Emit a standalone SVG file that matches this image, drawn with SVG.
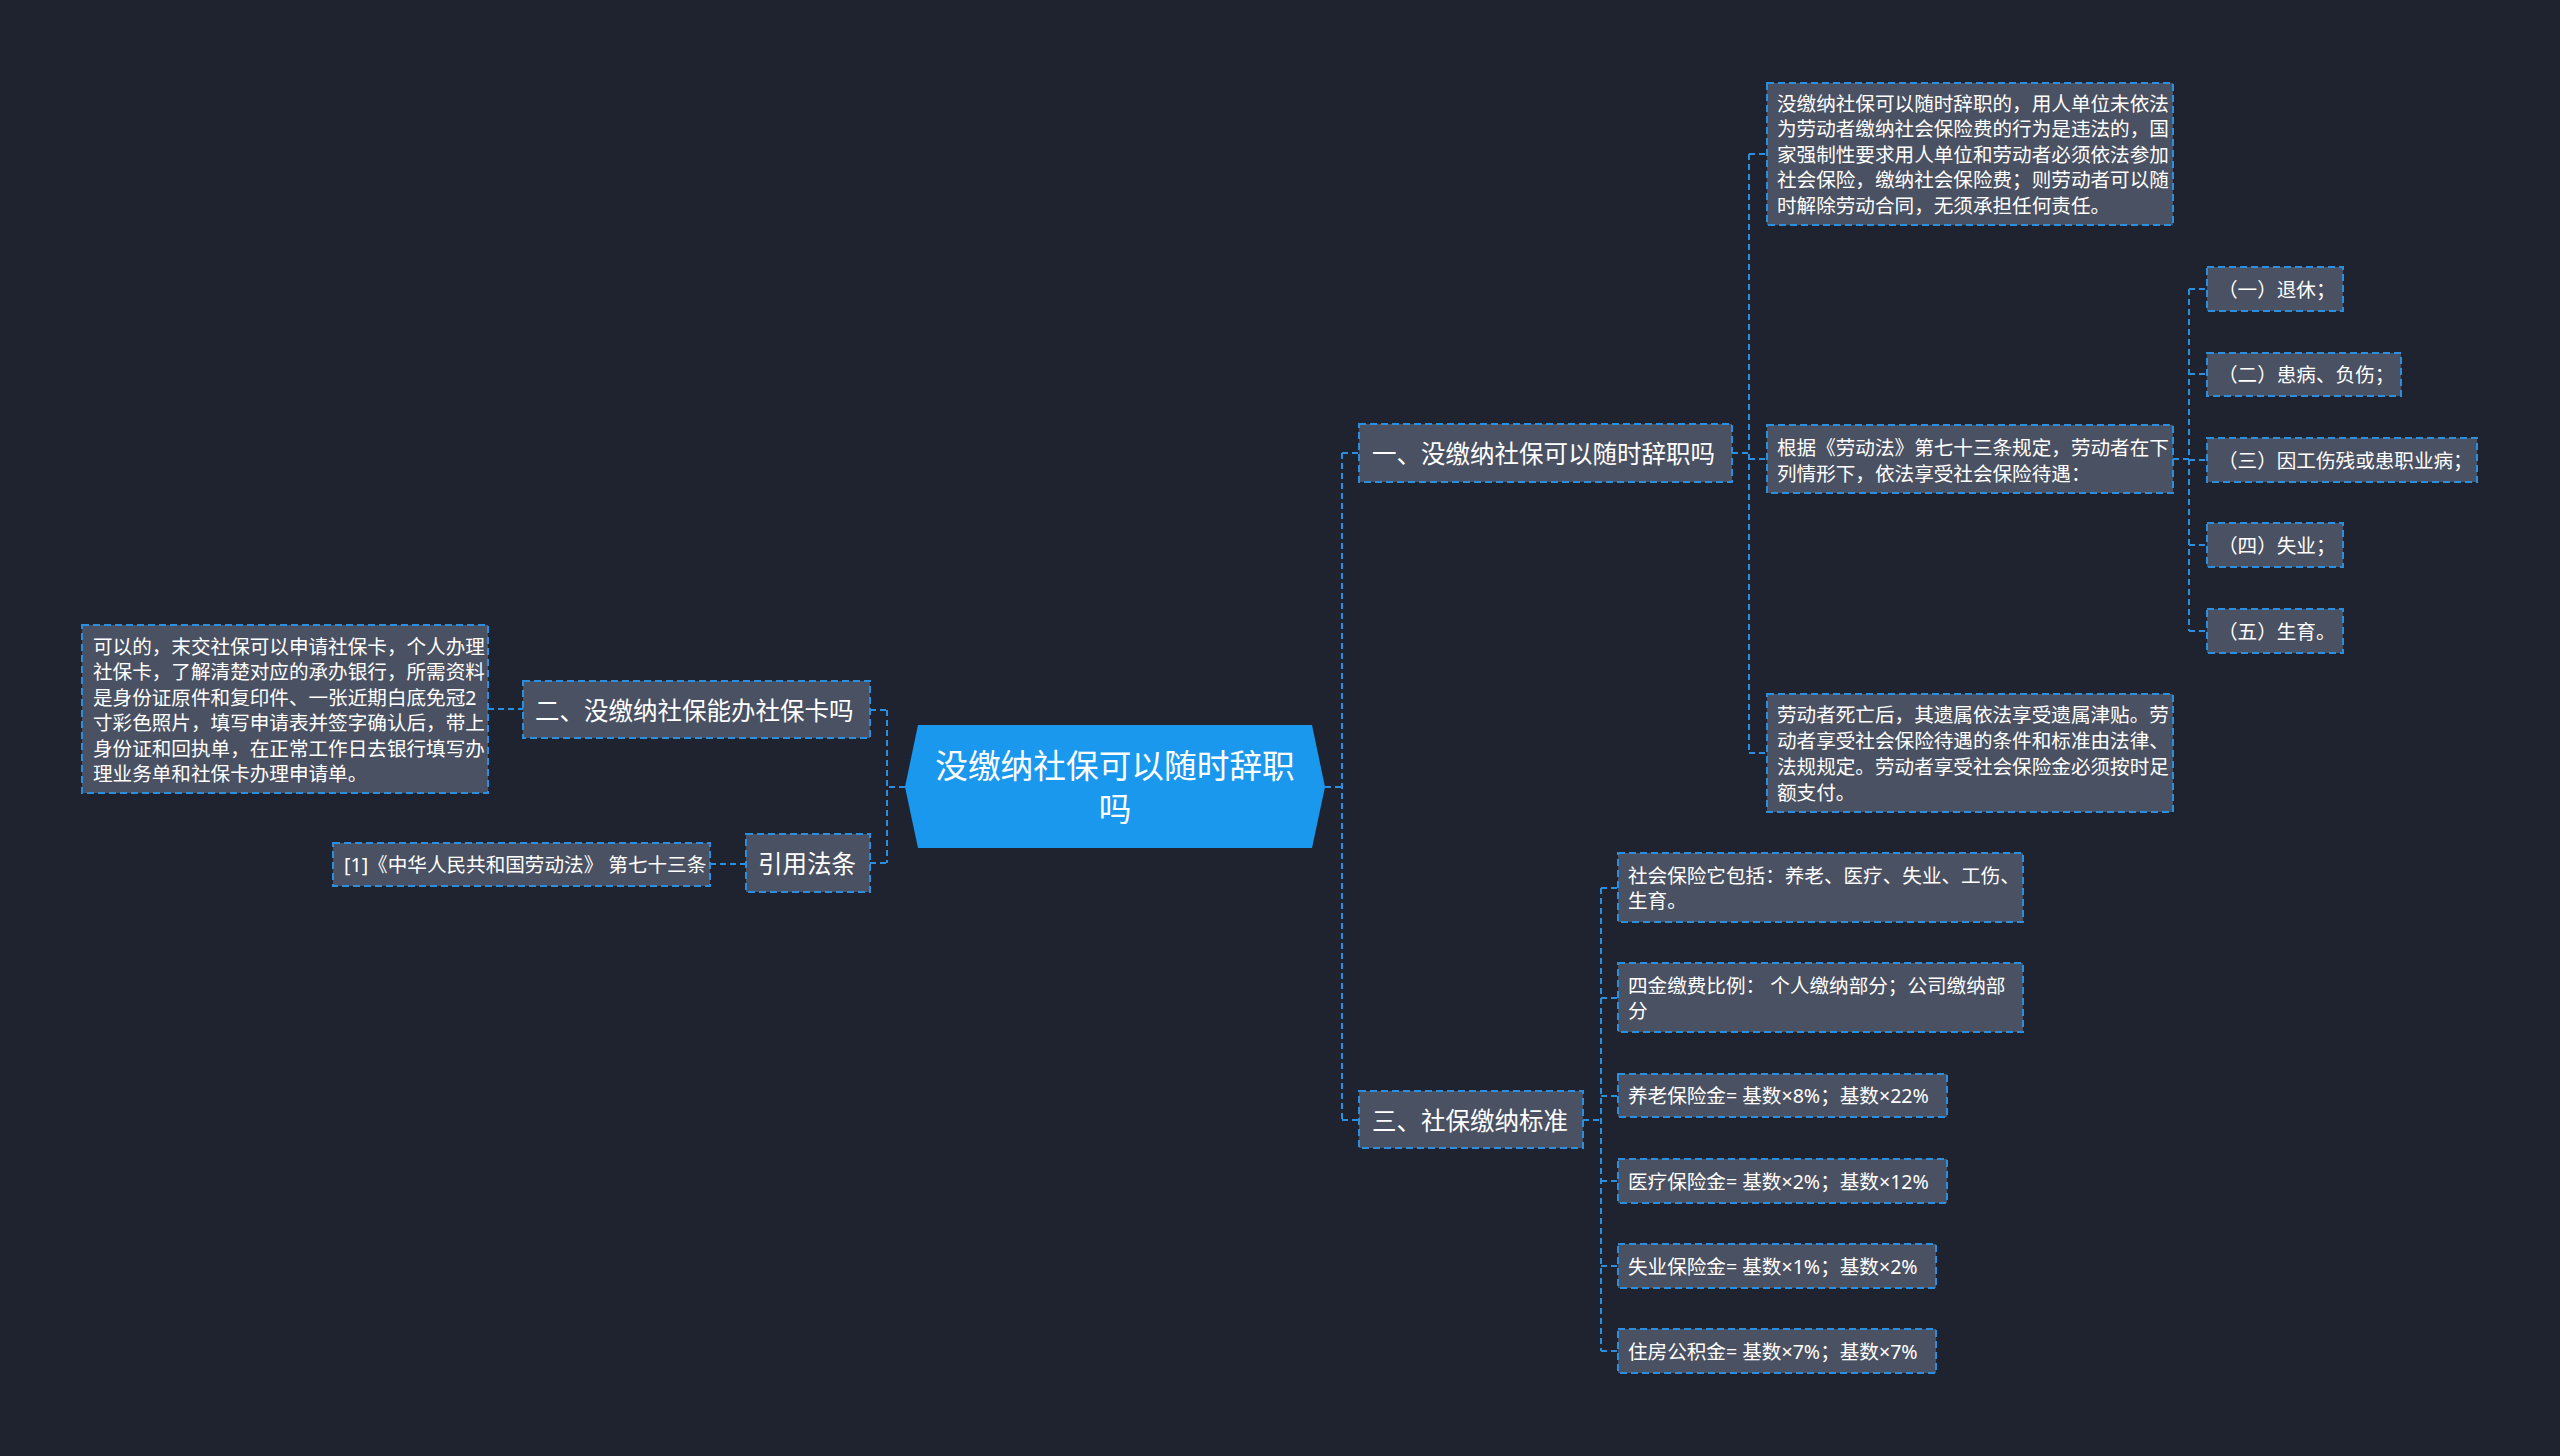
<svg xmlns="http://www.w3.org/2000/svg" width="2560" height="1456" viewBox="0 0 2560 1456">
<style>
text{font-family:"Noto Sans","Noto Sans CJK SC","Microsoft YaHei",sans-serif;fill:#ffffff;dominant-baseline:central}
.box{fill:#4a5162;stroke:#2b8fe0;stroke-width:2;stroke-dasharray:7 4}
.t1{font-size:24.5px}
.t2{font-size:19.6px}
.tc{font-size:32.7px;text-anchor:middle}
.ln{fill:none;stroke:#2b8fe0;stroke-width:2;stroke-dasharray:6 4}
</style>
<rect width="2560" height="1456" fill="#1f232f"/>
<g id="connectors">
<path class="ln" d="M905 787 H887"/>
<path class="ln" d="M887 710 V863"/>
<path class="ln" d="M870 710 H887 M870 863 H887"/>
<path class="ln" d="M488 709 H523"/>
<path class="ln" d="M710 864 H746"/>
<path class="ln" d="M1325 787 H1342"/>
<path class="ln" d="M1342 453 V1120"/>
<path class="ln" d="M1342 453 H1359 M1342 1120 H1359"/>
<path class="ln" d="M1732 453 H1749"/>
<path class="ln" d="M1749 154 V753"/>
<path class="ln" d="M1749 154 H1767 M1749 459 H1767 M1749 753 H1767"/>
<path class="ln" d="M2173 459 H2189"/>
<path class="ln" d="M2189 289 V631"/>
<path class="ln" d="M2189 289 H2207 M2189 374 H2207 M2189 460 H2207 M2189 545 H2207 M2189 631 H2207"/>
<path class="ln" d="M1583 1120 H1601"/>
<path class="ln" d="M1601 888 V1351"/>
<path class="ln" d="M1601 888 H1618 M1601 998 H1618 M1601 1096 H1618 M1601 1181 H1618 M1601 1266 H1618 M1601 1351 H1618"/>
</g>
<g id="center">
<polygon points="905,787 918,725 1312,725 1325,787 1312,848 918,848" fill="#1a98ee"/>
<text class="tc" x="1115" y="765">没缴纳社保可以随时辞职</text>
<text class="tc" x="1115" y="808">吗</text>
</g>
<g id="n-left1">
<rect class="box" x="523" y="681" width="347" height="57"/>
<text class="t1" x="535" y="710">二、没缴纳社保能办社保卡吗</text>
</g>
<g id="n-left1-d">
<rect class="box" x="82" y="625" width="406" height="168"/>
<text class="t2" x="93" y="646">可以的，末交社保可以申请社保卡，个人办理</text>
<text class="t2" x="93" y="671.5">社保卡，了解清楚对应的承办银行，所需资料</text>
<text class="t2" x="93" y="697">是身份证原件和复印件、一张近期白底免冠2</text>
<text class="t2" x="93" y="722.5">寸彩色照片，填写申请表并签字确认后，带上</text>
<text class="t2" x="93" y="748">身份证和回执单，在正常工作日去银行填写办</text>
<text class="t2" x="93" y="773.5">理业务单和社保卡办理申请单。</text>
</g>
<g id="n-ref">
<rect class="box" x="746" y="834" width="124" height="58"/>
<text class="t1" x="758" y="863">引用法条</text>
</g>
<g id="n-ref-d">
<rect class="box" x="333" y="843" width="377" height="43"/>
<text class="t2" x="344" y="864.5">[1]《中华人民共和国劳动法》 第七十三条</text>
</g>
<g id="n-r1">
<rect class="box" x="1359" y="424" width="373" height="58"/>
<text class="t1" x="1372" y="453">一、没缴纳社保可以随时辞职吗</text>
</g>
<g id="n-r1-a">
<rect class="box" x="1767" y="83" width="406" height="142"/>
<text class="t2" x="1777" y="103">没缴纳社保可以随时辞职的，用人单位未依法</text>
<text class="t2" x="1777" y="128.5">为劳动者缴纳社会保险费的行为是违法的，国</text>
<text class="t2" x="1777" y="154">家强制性要求用人单位和劳动者必须依法参加</text>
<text class="t2" x="1777" y="179.5">社会保险，缴纳社会保险费；则劳动者可以随</text>
<text class="t2" x="1777" y="205">时解除劳动合同，无须承担任何责任。</text>
</g>
<g id="n-r1-b">
<rect class="box" x="1767" y="425" width="406" height="68"/>
<text class="t2" x="1777" y="447">根据《劳动法》第七十三条规定，劳动者在下</text>
<text class="t2" x="1777" y="473">列情形下，依法享受社会保险待遇：</text>
</g>
<g id="n-r1-c">
<rect class="box" x="1767" y="694" width="406" height="118"/>
<text class="t2" x="1777" y="714">劳动者死亡后，其遗属依法享受遗属津贴。劳</text>
<text class="t2" x="1777" y="740">动者享受社会保险待遇的条件和标准由法律、</text>
<text class="t2" x="1777" y="766">法规规定。劳动者享受社会保险金必须按时足</text>
<text class="t2" x="1777" y="792">额支付。</text>
</g>
<g id="n-b1">
<rect class="box" x="2207" y="267" width="136" height="44"/>
<text class="t2" x="2218" y="289">（一）退休；</text>
</g>
<g id="n-b2">
<rect class="box" x="2207" y="353" width="194" height="43"/>
<text class="t2" x="2218" y="374.5">（二）患病、负伤；</text>
</g>
<g id="n-b3">
<rect class="box" x="2207" y="438" width="270" height="44"/>
<text class="t2" x="2218" y="460">（三）因工伤残或患职业病；</text>
</g>
<g id="n-b4">
<rect class="box" x="2207" y="523" width="136" height="44"/>
<text class="t2" x="2218" y="545">（四）失业；</text>
</g>
<g id="n-b5">
<rect class="box" x="2207" y="609" width="136" height="44"/>
<text class="t2" x="2218" y="631">（五）生育。</text>
</g>
<g id="n-r3">
<rect class="box" x="1359" y="1091" width="224" height="57"/>
<text class="t1" x="1372" y="1120">三、社保缴纳标准</text>
</g>
<g id="n-r3-a">
<rect class="box" x="1618" y="853" width="405" height="69"/>
<text class="t2" x="1628" y="875">社会保险它包括：养老、医疗、失业、工伤、</text>
<text class="t2" x="1628" y="900.5">生育。</text>
</g>
<g id="n-r3-b">
<rect class="box" x="1618" y="963" width="405" height="69"/>
<text class="t2" x="1628" y="985">四金缴费比例： 个人缴纳部分；公司缴纳部</text>
<text class="t2" x="1628" y="1010.5">分</text>
</g>
<g id="n-r3-c">
<rect class="box" x="1618" y="1074" width="329" height="43"/>
<text class="t2" x="1628" y="1095.5">养老保险金= 基数×8%；基数×22%</text>
</g>
<g id="n-r3-d">
<rect class="box" x="1618" y="1159" width="329" height="44"/>
<text class="t2" x="1628" y="1181">医疗保险金= 基数×2%；基数×12%</text>
</g>
<g id="n-r3-e">
<rect class="box" x="1618" y="1244" width="318" height="44"/>
<text class="t2" x="1628" y="1266">失业保险金= 基数×1%；基数×2%</text>
</g>
<g id="n-r3-f">
<rect class="box" x="1618" y="1329" width="318" height="44"/>
<text class="t2" x="1628" y="1351">住房公积金= 基数×7%；基数×7%</text>
</g>
</svg>
